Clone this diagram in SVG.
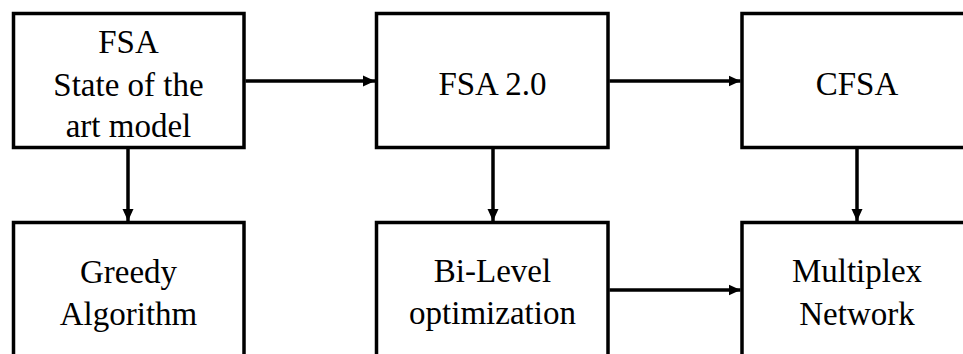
<svg xmlns="http://www.w3.org/2000/svg" width="963" height="354" viewBox="0 0 963 354">
<style>
.box{fill:#fff;stroke:#000;stroke-width:3.5}
.lbl{font-family:'Liberation Serif','Times New Roman',serif;font-size:33px;fill:#000;text-anchor:middle}
.conn{fill:none;stroke:#000;stroke-width:3.5}
</style>
<defs>
<marker id="ah" markerUnits="userSpaceOnUse" markerWidth="13" markerHeight="12" refX="12" refY="6" orient="auto">
<path d="M0,0.5 L12,6 L0,11.5 Z" fill="#000"/>
</marker>
</defs>
<rect width="963" height="354" fill="#fff"/>
<g id="fsa">
<rect class="box" x="13.5" y="13.5" width="230.5" height="134"/>
<text class="lbl" x="128.5" y="53">FSA</text>
<text class="lbl" x="128.5" y="96">State of the</text>
<text class="lbl" x="128.5" y="137">art model</text>
</g>
<g id="fsa2">
<rect class="box" x="376.5" y="13.5" width="231.5" height="134"/>
<text class="lbl" x="492.5" y="95">FSA 2.0</text>
</g>
<g id="cfsa">
<rect class="box" x="742" y="13.5" width="232" height="134"/>
<text class="lbl" x="857" y="95">CFSA</text>
</g>
<g id="greedy">
<rect class="box" x="13.5" y="222.5" width="230.5" height="160"/>
<text class="lbl" x="128.5" y="283">Greedy</text>
<text class="lbl" x="128.5" y="325">Algorithm</text>
</g>
<g id="bilevel">
<rect class="box" x="376.5" y="222.5" width="231.5" height="160"/>
<text class="lbl" x="492.5" y="282">Bi-Level</text>
<text class="lbl" x="492.5" y="324">optimization</text>
</g>
<g id="multiplex">
<rect class="box" x="742" y="222.5" width="232" height="160"/>
<text class="lbl" x="857" y="282">Multiplex</text>
<text class="lbl" x="857" y="325">Network</text>
</g>
<g id="connectors">
<line class="conn" x1="245.5" y1="81" x2="375" y2="81" marker-end="url(#ah)"/>
<line class="conn" x1="609.5" y1="81" x2="740.5" y2="81" marker-end="url(#ah)"/>
<line class="conn" x1="128" y1="149" x2="128" y2="221" marker-end="url(#ah)"/>
<line class="conn" x1="493" y1="149" x2="493" y2="221" marker-end="url(#ah)"/>
<line class="conn" x1="857" y1="149" x2="857" y2="221" marker-end="url(#ah)"/>
<line class="conn" x1="609.5" y1="290" x2="740.5" y2="290" marker-end="url(#ah)"/>
</g>
</svg>
